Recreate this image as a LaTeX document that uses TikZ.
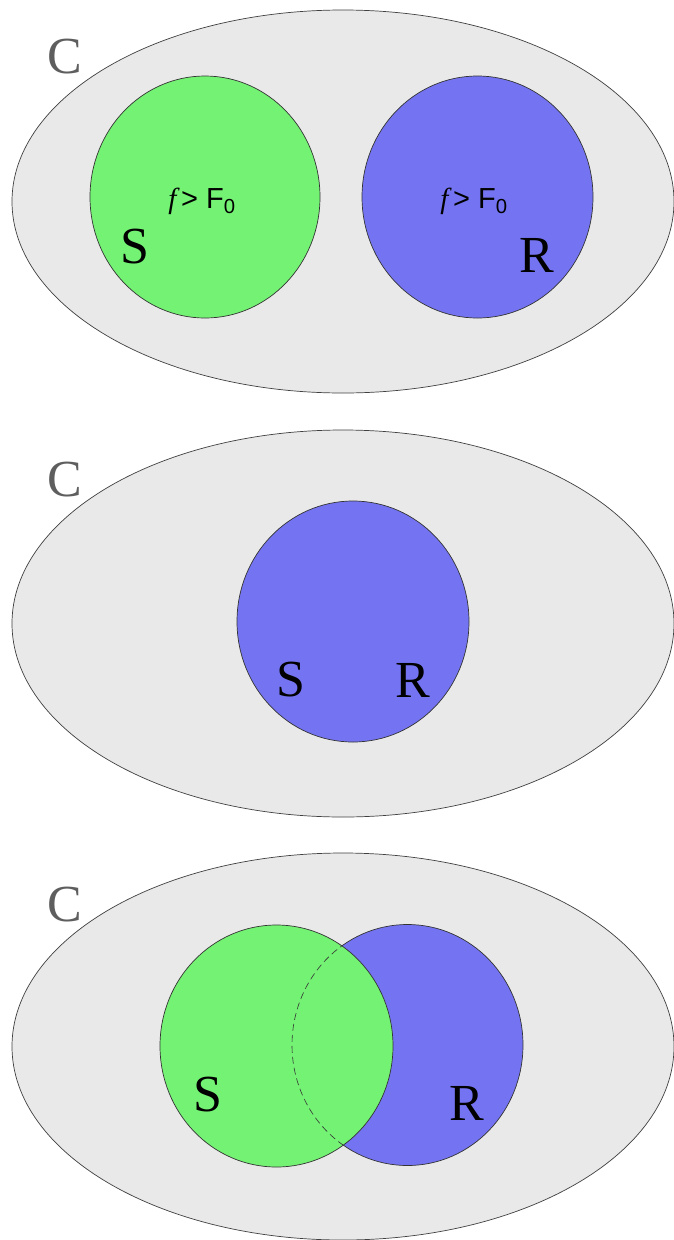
\documentclass[tikz,border=0pt]{standalone}
\usepackage{fontspec}
\setmainfont{Liberation Serif}
\newfontfamily\arialfont{Liberation Sans}
\definecolor{setgray}{HTML}{E9E9E9}
\definecolor{setgreen}{HTML}{74F274}
\definecolor{setblue}{HTML}{7474F2}
\definecolor{labelgray}{HTML}{5E5E5E}
\begin{document}
\begin{tikzpicture}[x=1pt,y=-1pt,
  universe/.style={draw=black!75, fill=setgray, line width=0.7pt},
  greenset/.style={draw=black!80, fill=setgreen, line width=0.7pt},
  blueset/.style={draw=black!80, fill=setblue, line width=0.7pt},
  setname/.style={inner sep=0pt, font=\fontsize{52}{52}\selectfont},
  uniname/.style={setname, text=labelgray},
  condition/.style={inner sep=0pt, font=\fontsize{29}{29}\selectfont}]
\useasboundingbox[fill=white] (0,0) rectangle (673,1240);

% --- top: two disjoint sets inside C
\path[universe] (343,201.5) ellipse [x radius=331, y radius=191.5];
\path[greenset] (205,197) ellipse [x radius=115, y radius=121];
\path[blueset] (477.5,197) ellipse [x radius=115.5, y radius=121];
\node[uniname] (c1) at (65,57) {C};
\node[setname] (s1) at (135,247) {S};
\node[setname] (r1) at (537,255) {R};
\node[condition] (f1) at (202,201) {{\itshape f}\,{\arialfont > F\textsubscript{0}}};
\node[condition] (f2) at (474,201) {{\itshape f}\,{\arialfont > F\textsubscript{0}}};

% --- middle: S and R coincide
\path[universe] (343,623.5) ellipse [x radius=331, y radius=193.5];
\path[blueset] (353,621.5) ellipse [x radius=116, y radius=120.5];
\node[uniname] (c2) at (65,480) {C};
\node[setname] (s2) at (291,680) {S};
\node[setname] (r2) at (413,680) {R};

% --- bottom: S and R overlap
\path[universe] (343,1046.5) ellipse [x radius=331, y radius=193.5];
\path[blueset] (407.5,1045) ellipse [x radius=115.5, y radius=120.5];
\path[greenset] (276.5,1046) ellipse [x radius=116.5, y radius=121];
\begin{scope}
  \clip (276.5,1046) ellipse [x radius=116, y radius=120.5];
  \draw[black!80, dashed, dash pattern=on 7pt off 4pt, line width=0.6pt]
    (407.5,1045) ellipse [x radius=115.5, y radius=120.5];
\end{scope}
\node[uniname] (c3) at (65,905) {C};
\node[setname] (s3) at (208,1095) {S};
\node[setname] (r3) at (467,1103) {R};
\end{tikzpicture}
\end{document}
